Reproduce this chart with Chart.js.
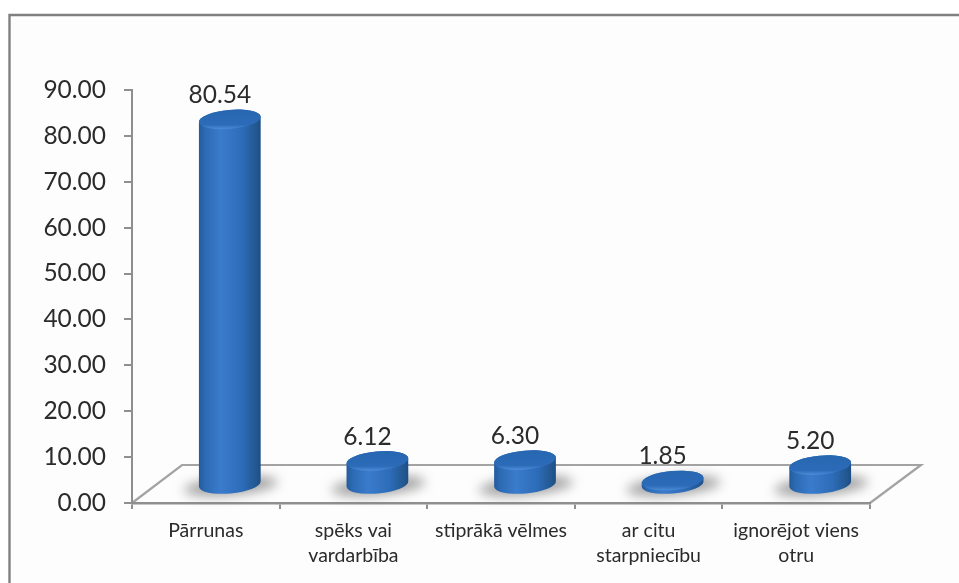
<!DOCTYPE html>
<html>
<head>
<meta charset="utf-8">
<script src="https://cdn.jsdelivr.net/npm/chart.js@4"></script>
<style>
html,body{margin:0;padding:0;background:#fff;overflow:hidden}
canvas{display:block;filter:blur(0.55px)}
</style>
</head>
<body>
<canvas id="c" width="959" height="583"></canvas>
<script>
const categories = ["Pārrunas", ["spēks vai","vardarbība"], "stiprākā vēlmes", ["ar citu","starpniecību"], ["ignorējot viens","otru"]];
const values = [80.54, 6.12, 6.30, 1.85, 5.20];
const valueLabels = ["80.54", "6.12", "6.30", "1.85", "5.20"];
const tickText = "#2b2b2b", lineGrey = "#8f8f8f";
const FONT = "Lato, Carlito, sans-serif";

const depth = {dx: 50, dy: -38};

const scene = {
  id: "scene",
  beforeDraw(chart) {
    const {ctx, chartArea: a} = chart;
    ctx.save();
    ctx.fillStyle = "#ffffff";
    ctx.fillRect(0, 0, chart.width, chart.height);
    ctx.fillStyle = "#fdfdfd";
    ctx.fillRect(10, 16, chart.width - 10, chart.height - 16);
    ctx.strokeStyle = "#808080";
    ctx.lineWidth = 2.4;
    ctx.beginPath();
    ctx.moveTo(9.5, chart.height + 5);
    ctx.lineTo(9.5, 15);
    ctx.lineTo(chart.width + 5, 15);
    ctx.stroke();
    // floor
    ctx.strokeStyle = "#a3a3a3";
    ctx.lineWidth = 2.2;
    ctx.beginPath();
    ctx.moveTo(a.left, a.bottom);
    ctx.lineTo(a.left + depth.dx, a.bottom + depth.dy);
    ctx.lineTo(a.right + depth.dx + 1, a.bottom + depth.dy);
    ctx.lineTo(a.right, a.bottom);
    ctx.stroke();
    ctx.restore();
  },
  afterDatasetsDraw(chart) {
    const {ctx} = chart;
    const meta = chart.getDatasetMeta(0);
    meta.data.forEach((bar, i) => {
      const rx = bar.width / 2;
      const cx = bar.x + depth.dx / 2 - 1;
      const baseY = bar.base + depth.dy / 2 + 1;
      const topY = bar.y - 14;
      const ry = 9.5;
      const tilt = -0.09;
      ctx.save();
      // floor shadow
      ctx.filter = "blur(6px)";
      ctx.fillStyle = "rgba(120,120,120,0.7)";
      ctx.beginPath();
      ctx.ellipse(cx + 1, baseY + 2, rx + 16, 9, tilt, 0, Math.PI * 2);
      ctx.fill();
      ctx.filter = "none";
      // body
      const g = ctx.createLinearGradient(cx - rx, 0, cx + rx, 0);
      g.addColorStop(0, "#245a9c");
      g.addColorStop(0.1, "#2c6ab3");
      g.addColorStop(0.35, "#3a7bcc");
      g.addColorStop(0.7, "#2d6cb8");
      g.addColorStop(0.93, "#22578f");
      g.addColorStop(1, "#1e4d85");
      ctx.fillStyle = g;
      ctx.beginPath();
      ctx.ellipse(cx, baseY, rx, ry, tilt, 0, Math.PI);
      ctx.ellipse(cx, topY, rx, ry, tilt, Math.PI, Math.PI * 2);
      ctx.closePath();
      ctx.fill();
      // cap
      const cg = ctx.createLinearGradient(0, topY - ry, 0, topY + ry);
      cg.addColorStop(0, "#2766b0");
      cg.addColorStop(0.78, "#2c6bb8");
      cg.addColorStop(1, "#4a8ad6");
      ctx.fillStyle = cg;
      ctx.beginPath();
      ctx.ellipse(cx, topY, rx, ry, tilt, 0, Math.PI * 2);
      ctx.fill();
      // value label
      ctx.fillStyle = tickText;
      ctx.font = "24.5px " + FONT;
      ctx.textAlign = "center";
      ctx.textBaseline = "middle";
      ctx.fillText(valueLabels[i], bar.x + 14, topY - 24);
      ctx.restore();
    });
  }
};

new Chart(document.getElementById("c"), {
  type: "bar",
  data: {
    labels: categories,
    datasets: [{
      data: values,
      backgroundColor: "rgba(0,0,0,0)",
      borderWidth: 0,
      barPercentage: 0.42,
      categoryPercentage: 1
    }]
  },
  plugins: [scene],
  options: {
    responsive: false,
    animation: false,
    layout: {padding: {top: 90, right: 89, left: 0, bottom: 0}},
    plugins: {legend: {display: false}, title: {display: false}, tooltip: {enabled: false}},
    scales: {
      x: {
        afterFit(s) { s.height = 80; },
        grid: {display: true, drawOnChartArea: false, drawTicks: true, tickLength: 6, color: lineGrey, lineWidth: 2, offset: true},
        border: {display: true, color: lineGrey, width: 2.4},
        ticks: {
          color: tickText,
          font: {family: FONT, size: 19.5, lineHeight: 1.28},
          padding: 9,
          maxRotation: 0,
          autoSkip: false
        }
      },
      y: {
        min: 0,
        max: 90,
        afterFit(s) { s.width = 132; },
        grid: {display: true, drawOnChartArea: false, drawTicks: true, tickLength: 8, color: lineGrey, lineWidth: 2},
        border: {display: true, color: lineGrey, width: 2},
        ticks: {
          stepSize: 10,
          color: tickText,
          font: {family: FONT, size: 24.5},
          padding: 18,
          callback: v => v.toFixed(2)
        }
      }
    }
  }
});
</script>
</body>
</html>
